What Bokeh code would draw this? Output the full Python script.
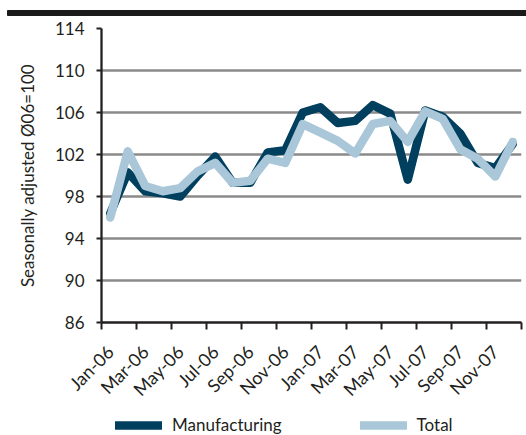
from bokeh.plotting import figure
from bokeh.models import FixedTicker, Range1d, Legend, LegendItem, ColumnDataSource
from bokeh.layouts import column, row
from bokeh.embed import file_html
from bokeh.resources import INLINE
import math

# Monthly index values, seasonally adjusted (2006 = 100)
months = ["Jan-06", "Feb-06", "Mar-06", "Apr-06", "May-06", "Jun-06",
          "Jul-06", "Aug-06", "Sep-06", "Oct-06", "Nov-06", "Dec-06",
          "Jan-07", "Feb-07", "Mar-07", "Apr-07", "May-07", "Jun-07",
          "Jul-07", "Aug-07", "Sep-07", "Oct-07", "Nov-07", "Dec-07"]
manufacturing = [96.4, 100.3, 98.5, 98.3, 98.0, 100.0, 101.8, 99.3, 99.3, 102.2, 102.4, 106.0,
                 106.5, 105.0, 105.2, 106.7, 105.9, 99.6, 106.2, 105.6, 104.0, 101.2, 100.7, 103.0]
total = [96.0, 102.3, 99.0, 98.5, 98.8, 100.4, 101.2, 99.3, 99.5, 101.6, 101.2, 104.9,
         104.1, 103.3, 102.1, 104.9, 105.2, 103.2, 106.1, 105.4, 102.5, 101.6, 99.9, 103.2]
y_ticks = [86, 90, 94, 98, 102, 106, 110, 114]

FONT = "Lato"
DARK = "#003f5e"
LIGHT = "#a9c7d9"
INK = "#231f20"
LINE_W = 8.5

x = [i + 0.5 for i in range(len(months))]
src = ColumnDataSource(dict(x=x, manufacturing=manufacturing, total=total))

# Heavy rule across the top of the panel
header = figure(width=526, height=18, output_backend="svg", toolbar_location=None,
                x_range=Range1d(0, 526), y_range=Range1d(0, 18),
                min_border=0, outline_line_color=None)
header.axis.visible = False
header.grid.visible = False
header.quad(left=[7], right=[526], bottom=[3], top=[8], color="#1a1a1a")

p = figure(width=526, height=392, output_backend="svg", toolbar_location=None,
           x_range=Range1d(0, len(months)), y_range=Range1d(86, 114),
           min_border_left=101, min_border_right=5, min_border_top=10,
           min_border_bottom=87, outline_line_color=None)

p.line("x", "manufacturing", source=src, line_color=DARK, line_width=LINE_W,
       line_join="round", line_cap="round")
p.line("x", "total", source=src, line_color=LIGHT, line_width=LINE_W,
       line_join="round", line_cap="round")

# Grid
p.xgrid.visible = False
p.ygrid.ticker = FixedTicker(ticks=y_ticks)
p.ygrid.grid_line_color = "#8a8a8a"
p.ygrid.grid_line_width = 2.5

# Y axis
p.yaxis.ticker = FixedTicker(ticks=y_ticks)
p.yaxis.axis_label = "Seasonally adjusted \u00d806=100"
p.yaxis.axis_label_text_font = FONT
p.yaxis.axis_label_text_font_style = "normal"
p.yaxis.axis_label_text_font_size = "17px"
p.yaxis.axis_label_text_color = INK
p.yaxis.axis_label_standoff = 14
p.yaxis.major_label_text_font = FONT
p.yaxis.major_label_text_font_size = "17px"
p.yaxis.major_label_text_color = INK
p.yaxis.major_label_standoff = 12
p.yaxis.major_tick_out = 5
p.yaxis.major_tick_in = 0
p.yaxis.minor_tick_out = 0
p.yaxis.minor_tick_in = 0
p.yaxis.axis_line_width = 2.3
p.yaxis.axis_line_color = INK
p.yaxis.major_tick_line_width = 2
p.yaxis.major_tick_line_color = INK

# X axis: labels on every other month, tick marks on the month boundaries
label_pos = [x[i] for i in range(0, len(months), 2)]
p.xaxis.ticker = FixedTicker(ticks=label_pos, minor_ticks=list(range(0, len(months) + 1, 2)))
p.xaxis.major_label_overrides = {x[i]: months[i] for i in range(0, len(months), 2)}
p.xaxis.major_label_orientation = math.pi / 4
p.xaxis.major_label_text_font = FONT
p.xaxis.major_label_text_font_size = "18px"
p.xaxis.major_label_text_color = INK
p.xaxis.major_label_standoff = 19
p.xaxis.major_tick_out = 0
p.xaxis.major_tick_in = 0
p.xaxis.minor_tick_out = 7
p.xaxis.minor_tick_in = 0
p.xaxis.minor_tick_line_width = 2
p.xaxis.minor_tick_line_color = INK
p.xaxis.axis_line_width = 2.3
p.xaxis.axis_line_color = INK

# Legend strip under the chart; its series lie outside its view, only the keys show
key = figure(width=526, height=25, output_backend="svg", toolbar_location=None,
             x_range=Range1d(0, 1), y_range=Range1d(0, 1),
             min_border=0, outline_line_color=None)
key.axis.visible = False
key.grid.visible = False
k_m = key.line("x", "manufacturing", source=src, line_color=DARK, line_width=LINE_W,
               line_cap="round")
k_t = key.line("x", "total", source=src, line_color=LIGHT, line_width=LINE_W,
               line_cap="round")
legend = Legend(items=[LegendItem(label="Manufacturing", renderers=[k_m]),
                       LegendItem(label="Total", renderers=[k_t])],
                orientation="horizontal", location=(115, 0),
                glyph_width=47, glyph_height=20, label_standoff=10, spacing=78,
                padding=0, margin=0, border_line_color=None, background_fill_alpha=0,
                label_text_font=FONT, label_text_font_size="17px", label_text_color=INK)
key.add_layout(legend)

layout = column(row(header), p, row(key), spacing=0)
open("out.html", "w").write(file_html(layout, INLINE))
